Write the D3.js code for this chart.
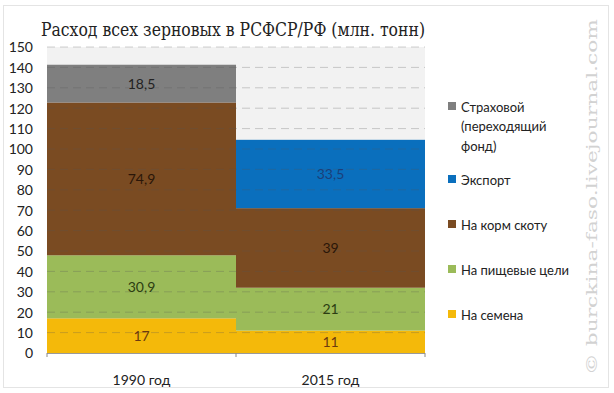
<!DOCTYPE html>
<html><head><meta charset="utf-8">
<script src="https://cdn.jsdelivr.net/npm/d3@7"></script>
<style>body{margin:0;background:#fff}svg{display:block}</style>
</head><body>
<script>
const categories = ["1990 год", "2015 год"];
const seriesNames = ["На семена", "На пищевые цели", "На корм скоту", "Экспорт", "Страховой (переходящий фонд)"];
const seeds = [17, 11];
const food = [30.9, 21];
const feed = [74.9, 39];
const exportV = [0, 33.5];
const reserve = [18.5, 0];
const valueLabels = [["17","11"],["30,9","21"],["74,9","39"],["","33,5"],["18,5",""]];
const yTicks = [0,10,20,30,40,50,60,70,80,90,100,110,120,130,140,150];
const colors = ["#f4b90a", "#9bbb59", "#7a4b22", "#0a6fbd", "#7f7f7f"];
const labelColors = ["#6b3a10", "#2c3d12", "#2a1608", "#1b3f7a", "#222"];

const W = 614, H = 393;
const svg = d3.select("body").append("svg").attr("width", W).attr("height", H);
svg.append("rect").attr("x",3.5).attr("y",5.5).attr("width",605).attr("height",382)
  .attr("fill","#fff").attr("stroke","#e4e4e4");

const m = {left:47, right:425, top:47, bottom:353};
const x = d3.scaleBand().domain(categories).range([m.left, m.right]).padding(0);
const y = d3.scaleLinear().domain([0,150]).range([m.bottom, m.top]);

svg.append("rect").attr("x",m.left).attr("y",m.top).attr("width",m.right-m.left).attr("height",m.bottom-m.top).attr("fill","#f2f2f2");

const data = [seeds, food, feed, exportV, reserve];
const rows = categories.map((c,i)=>{const o={cat:c}; data.forEach((s,k)=>o["s"+k]=s[i]); return o;});
const stack = d3.stack().keys(data.map((d,k)=>"s"+k))(rows);

stack.forEach((layer,k)=>{
  svg.append("g").selectAll("rect").data(layer).join("rect")
    .attr("x", d=>x(d.data.cat)).attr("width", x.bandwidth())
    .attr("y", d=>y(d[1])).attr("height", d=>y(d[0])-y(d[1]))
    .attr("fill", colors[k]);
});

// gridlines (dashed, over bars, translucent)
svg.append("g").selectAll("line").data(yTicks.filter(t=>t>0)).join("line")
  .attr("x1", m.left).attr("x2", m.right).attr("y1", d=>y(d)).attr("y2", d=>y(d))
  .attr("stroke", "#555").attr("stroke-opacity", 0.28).attr("stroke-dasharray","8,5");

// value labels
stack.forEach((layer,k)=>{
  svg.append("g").selectAll("text").data(layer).join("text")
    .attr("x", d=>x(d.data.cat)+x.bandwidth()/2)
    .attr("y", d=>(y(d[0])+y(d[1]))/2+5)
    .attr("text-anchor","middle").attr("font-family","Lato, 'Open Sans', sans-serif").attr("font-size",14)
    .attr("fill", labelColors[k])
    .text((d,i)=>valueLabels[k][i]);
});

// y axis
const yAxis = d3.axisLeft(y).tickValues(yTicks).tickSize(0).tickPadding(0);
const gy = svg.append("g").attr("transform",`translate(${m.left-14},0)`).call(yAxis);
gy.select(".domain").remove();
gy.selectAll("text").attr("font-family","Lato, 'Open Sans', sans-serif").attr("font-size",14).attr("fill","#222").attr("dy","0.35em");

// x axis
svg.append("line").attr("x1",m.left).attr("x2",m.right).attr("y1",m.bottom+0.5).attr("y2",m.bottom+0.5).attr("stroke","#999");
const xTickPos = [m.left, x(categories[1]), m.right];
svg.append("g").selectAll("line").data(xTickPos).join("line")
  .attr("x1",d=>d).attr("x2",d=>d).attr("y1",m.bottom).attr("y2",m.bottom+4).attr("stroke","#888");
svg.append("g").selectAll("text").data(categories).join("text")
  .attr("x", d=>x(d)+x.bandwidth()/2).attr("y", 385)
  .attr("text-anchor","middle").attr("font-family","Lato, 'Open Sans', sans-serif").attr("font-size",14).attr("fill","#222")
  .text(d=>d);

// title
svg.append("text").attr("x",41).attr("y",36).attr("font-family","'DejaVu Serif', 'Liberation Serif', serif")
  .attr("font-size",19).attr("fill","#222").attr("textLength",384).attr("lengthAdjust","spacingAndGlyphs")
  .text("Расход всех зерновых в РСФСР/РФ (млн. тонн)");

// legend
const legendItems = [
  {k:4, lines:["Страховой","(переходящий","фонд)"], y:107},
  {k:3, lines:["Экспорт"], y:180},
  {k:2, lines:["На корм скоту"], y:225},
  {k:1, lines:["На пищевые цели"], y:270},
  {k:0, lines:["На семена"], y:315}
];
const lg = svg.append("g");
legendItems.forEach(it=>{
  lg.append("rect").attr("x",448).attr("y",it.y-5).attr("width",8).attr("height",8).attr("fill",colors[it.k]);
  const t = lg.append("text").attr("x",461).attr("y",it.y+4.5).attr("font-family","Lato, 'Open Sans', sans-serif").attr("font-size",13).attr("fill","#222");
  it.lines.forEach((l,i)=>t.append("tspan").attr("x",461).attr("dy", i===0?0:19.5).text(l));
});

// watermark
svg.append("text").attr("transform","translate(597,375) rotate(-90)")
  .attr("font-family","'DejaVu Serif', serif").attr("font-size",15).attr("fill","#d2d2d2")
  .attr("textLength",356).attr("lengthAdjust","spacingAndGlyphs")
  .text("© burckina-faso.livejournal.com");
</script>
</body></html>
